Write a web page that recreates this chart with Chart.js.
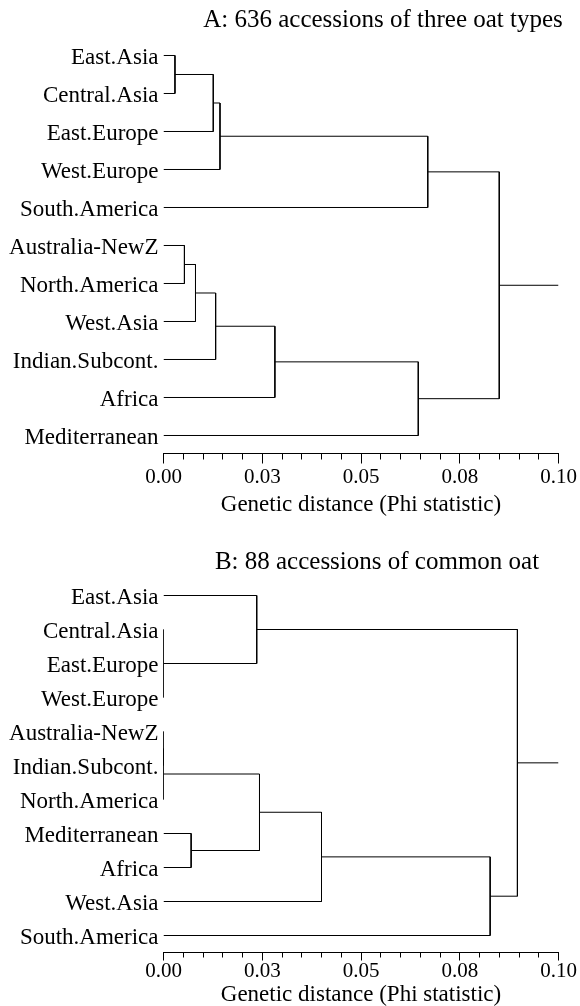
<!DOCTYPE html>
<html>
<head>
<meta charset="utf-8">
<title>Oat dendrograms</title>
<script src="https://cdn.jsdelivr.net/npm/chart.js@4.4.1/dist/chart.umd.min.js"></script>
<style>
  body { margin: 0; background: #fff; }
  #wrap { position: relative; width: 580px; height: 1006px; }
  canvas { position: absolute; left: 0; }
  .title {
    position: absolute; width: 400px; text-align: center; white-space: nowrap;
    font-family: 'Liberation Serif', 'Times New Roman', serif; font-size: 25px;
    line-height: 1; color: #000;
  }
</style>
</head>
<body>
<div id="wrap">
  <canvas id="chartA" width="580" height="519" style="top:0"></canvas>
  <canvas id="chartB" width="580" height="487" style="top:519px"></canvas>
  <div class="title" style="left:183px; top:6px">A: 636 accessions of three oat types</div>
  <div class="title" style="left:177px; top:548px">B: 88 accessions of common oat</div>
</div>
<script>
// Panel A: leaves top to bottom, merges (negative = leaf, positive = earlier merge), merge heights
const leavesA = ['East.Asia', 'Central.Asia', 'East.Europe', 'West.Europe', 'South.America',
  'Australia-NewZ', 'North.America', 'West.Asia', 'Indian.Subcont.', 'Africa', 'Mediterranean'];
const mergesA = [[-1, -2], [1, -3], [2, -4], [3, -5], [-6, -7], [5, -8], [6, -9], [7, -10], [8, -11], [4, 9]];
const heightsA = [0.0029, 0.0126, 0.0143, 0.0669, 0.0053, 0.0081, 0.0132, 0.0282, 0.0645, 0.0850];

// Panel B
const leavesB = ['East.Asia', 'Central.Asia', 'East.Europe', 'West.Europe', 'Australia-NewZ',
  'Indian.Subcont.', 'North.America', 'Mediterranean', 'Africa', 'West.Asia', 'South.America'];
const mergesB = [[-2, -3, -4], [-1, 1], [-5, -6], [3, -7], [-8, -9], [4, 5], [6, -10], [7, -11], [2, 8]];
const heightsB = [0, 0.0236, 0, 0, 0.0070, 0.0243, 0.0400, 0.0827, 0.0896];

const rootTip = 0.1;
const xTickLabels = ['0.00', '0.03', '0.05', '0.08', '0.10'];
const xMajorStep = 0.025;
const xMinorStep = 0.005;

const serif = "'Liberation Serif', 'Times New Roman', serif";

function isMajor(v) {
  const k = v / xMajorStep;
  return Math.abs(k - Math.round(k)) < 1e-6;
}

// turn a merge list into polylines in data units (x = distance, y = leaf row)
function dendrogramLines(merges, heights) {
  const nodeY = [];
  const lines = [];
  const yOf = c => (c < 0 ? -c - 1 : nodeY[c - 1]);
  const hOf = c => (c < 0 ? 0 : heights[c - 1]);

  merges.forEach((kids, i) => {
    const h = heights[i];
    const first = kids[0];
    const last = kids[kids.length - 1];
    lines.push([
      { x: hOf(first), y: yOf(first) },
      { x: h, y: yOf(first) },
      { x: h, y: yOf(last) },
      { x: hOf(last), y: yOf(last) }
    ]);
    kids.slice(1, -1).forEach(c => {
      lines.push([{ x: hOf(c), y: yOf(c) }, { x: h, y: yOf(c) }]);
    });
    nodeY.push((yOf(first) + yOf(last)) / 2);
  });

  const root = merges.length - 1;
  lines.push([{ x: heights[root], y: nodeY[root] }, { x: rootTip, y: nodeY[root] }]);
  return lines;
}

// short ticks between the labelled ones
const minorTicks = {
  id: 'minorTicks',
  afterDraw(chart, args, opts) {
    const scale = chart.scales.x;
    const ctx = chart.ctx;
    ctx.save();
    ctx.strokeStyle = '#000';
    ctx.lineWidth = 1;
    scale.ticks.forEach(t => {
      if (isMajor(t.value)) return;
      const px = Math.round(scale.getPixelForValue(t.value) - 0.5) + 0.5;
      ctx.beginPath();
      ctx.moveTo(px, scale.top);
      ctx.lineTo(px, scale.top + opts.length);
      ctx.stroke();
    });
    ctx.restore();
  }
};

function makeChart(id, leaves, merges, heights, L) {
  const lines = dendrogramLines(merges, heights);

  return new Chart(document.getElementById(id), {
    type: 'scatter',
    data: {
      datasets: lines.map(pts => ({
        data: pts,
        showLine: true,
        borderColor: '#000',
        borderWidth: 1,
        borderJoinStyle: 'miter',
        pointRadius: 0,
        pointHoverRadius: 0,
        tension: 0,
        fill: false
      }))
    },
    options: {
      responsive: false,
      animation: false,
      events: [],
      layout: { padding: { top: L.top, right: 21.5, bottom: 0, left: 0 } },
      plugins: {
        legend: { display: false },
        tooltip: { enabled: false },
        minorTicks: { length: L.minorTick }
      },
      scales: {
        x: {
          type: 'linear',
          position: 'bottom',
          min: 0,
          max: 0.1,
          afterFit: s => { s.height = L.axisHeight; },
          border: { display: true, color: '#000', width: 1 },
          grid: {
            display: true,
            drawOnChartArea: false,
            drawTicks: true,
            tickLength: L.majorTick,
            tickWidth: 1,
            tickColor: c => (c.tick && isMajor(c.tick.value) ? '#000' : 'rgba(0,0,0,0)')
          },
          ticks: {
            stepSize: xMinorStep,
            autoSkip: false,
            maxRotation: 0,
            padding: L.tickPad,
            color: '#000',
            font: { family: serif, size: 21, lineHeight: 1 },
            callback: v => (isMajor(v) ? xTickLabels[Math.round(v / xMajorStep)] : '')
          },
          title: {
            display: true,
            text: 'Genetic distance (Phi statistic)',
            color: '#000',
            font: { family: serif, size: 23, lineHeight: 1 },
            padding: { top: 0, bottom: L.titlePad }
          }
        },
        y: {
          type: 'linear',
          reverse: true,
          min: -0.5,
          max: L.yMax,
          afterFit: s => { s.width = 163.5; },
          afterBuildTicks: s => { s.ticks = leaves.map((_, i) => ({ value: i })); },
          border: { display: false },
          grid: { display: false, drawTicks: false },
          ticks: {
            padding: 5,
            labelOffset: 2,
            color: '#000',
            font: { family: serif, size: 23 },
            callback: v => leaves[v] ?? ''
          }
        }
      }
    },
    plugins: [minorTicks]
  });
}

makeChart('chartA', leavesA, mergesA, heightsA, {
  top: 36.5, yMax: 10.4737, axisHeight: 65.5, majorTick: 10, minorTick: 6, tickPad: 3, titlePad: 2.5
});
makeChart('chartB', leavesB, mergesB, heightsB, {
  top: 59.5, yMax: 10.5, axisHeight: 53.5, majorTick: 8, minorTick: 5, tickPad: 0.5, titlePad: 0
});
</script>
</body>
</html>
